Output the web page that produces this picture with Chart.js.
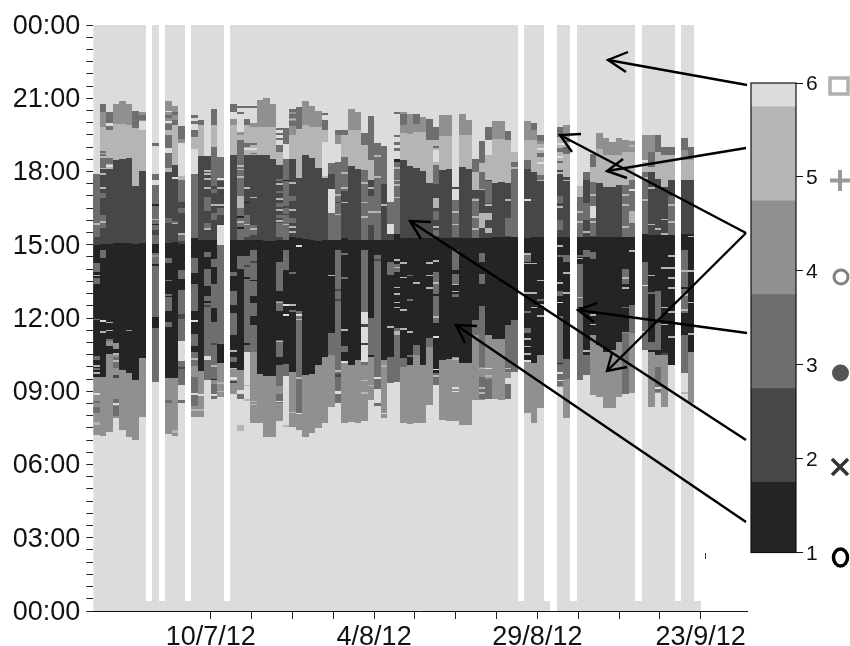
<!DOCTYPE html>
<html><head><meta charset="utf-8">
<script src="https://cdn.jsdelivr.net/npm/chart.js@4/dist/chart.umd.min.js"></script>
<style>html,body{margin:0;padding:0;background:#fff}#wrap{position:relative;width:850px;height:646px;overflow:hidden}
#main{position:absolute;left:0;top:0}#bar{position:absolute;left:730px;top:0}</style>
</head><body><div id="wrap"><canvas id="main" width="850" height="646"></canvas><canvas id="bar" width="120" height="646"></canvas></div>
<script>
const levelColors = {6:'#dcdcdc',5:'#b5b5b5',4:'#909090',3:'#6e6e6e',2:'#474747',1:'#242424'};
const xTickDays = [18,24.25,30.5,36.75,43,49.25,55.5,61.75,68,74.25,80.5,86.75,93];
const xTickLabels = {18:'10/7/12',43:'4/8/12',68:'29/8/12',93:'23/9/12'};
const scaleLevels = [1,2,3,4,5,6];
const bandStarts = [1,1.75,2.75,3.75,4.75,5.75];
const n = null;
// hour of day where each band of a day begins (one entry per day, null = no recording)
const duskTop   = [17.88,20.76,20.44,20.76,20.88,20.78,20.48,20.44,n,17.88,n,20.88,20.67,19.87,n,19.69,20.10,18.63,20.58,18.60,n,20.78,19.62,20.17,20.03,20.92,20.99,20.76,19.08,19.79,20.58,20.65,20.88,20.67,20.48,20.10,18.33,19.69,19.69,20.55,20.42,19.56,20.27,19.17,19.04,16.76,18.53,20.44,20.35,20.35,20.24,20.17,19.28,20.31,20.31,17.37,20.37,20.10,18.53,19.26,19.83,20.07,20.07,19.65,18.80,n,20.07,19.99,19.49,n,n,19.83,19.90,n,17.40,17.99,18.71,19.56,19.39,19.21,19.39,19.28,19.26,n,19.49,19.49,19.49,19.01,19.01,n,19.39,19.01,n];
const band5Top  = [17.88,19.83,19.72,19.94,19.94,19.90,19.79,19.69,n,17.88,n,19.96,19.89,19.17,n,19.42,19.90,18.63,19.90,18.60,n,19.90,19.49,19.90,19.83,19.83,19.83,19.83,18.80,19.14,19.49,19.76,19.90,19.83,19.83,19.72,18.33,19.14,19.49,19.72,19.72,19.08,18.46,18.53,17.50,16.76,18.53,19.56,19.53,19.60,19.60,19.28,19.28,19.45,19.45,17.37,19.49,19.49,17.99,18.33,18.67,19.35,19.35,19.28,18.80,n,19.28,19.28,19.14,n,n,19.42,19.42,n,17.40,17.99,18.19,18.94,18.67,18.67,18.67,18.80,18.80,n,18.46,18.80,18.80,18.67,18.67,n,18.46,18.46,n];
const band2Top  = [17.88,18.12,18.12,18.49,18.53,18.55,17.40,18.03,n,17.88,n,17.97,18.26,17.65,n,17.88,18.63,18.63,18.63,18.60,n,18.67,19.28,18.67,18.67,18.67,18.67,18.53,18.26,18.53,18.53,17.74,18.67,18.57,18.16,17.75,17.92,18.40,18.60,18.22,18.12,18.05,17.65,17.65,17.50,16.76,18.53,18.46,18.22,18.16,18.03,17.51,18.26,18.05,18.12,17.37,18.19,18.12,17.23,17.23,17.65,17.51,17.58,17.51,18.40,n,18.12,17.99,17.65,n,n,18.05,17.78,n,16.96,17.65,17.58,17.51,17.37,17.37,17.44,17.44,17.65,n,17.99,17.99,17.71,17.37,17.65,n,17.65,17.65,n];
const peakTop   = [14.98,15.02,15.02,15.08,15.08,15.08,15.02,15.08,n,15.05,n,15.08,15.12,15.05,n,15.26,15.19,15.19,15.19,15.09,n,15.19,15.19,15.19,15.19,15.19,15.16,15.16,15.19,15.19,15.32,15.26,15.22,15.19,15.16,15.19,15.19,15.19,15.26,15.19,15.19,15.19,15.19,15.19,15.19,15.19,15.46,15.26,15.26,15.26,15.26,15.26,15.32,15.26,15.26,15.26,15.26,15.26,15.26,15.26,15.26,15.32,15.32,15.32,15.32,n,15.26,15.32,15.32,n,n,15.32,15.32,n,15.32,15.32,15.32,15.32,15.32,15.32,15.32,15.32,15.32,n,15.46,15.39,15.39,15.39,15.39,n,15.46,15.46,n];
const morningTop= [9.59,9.59,10.52,10.48,9.89,9.76,9.48,10.38,n,9.39,n,9.56,9.56,9.25,n,10.62,9.84,9.46,9.46,10.14,n,9.92,9.89,10.62,10.62,9.70,9.62,9.62,10.07,9.62,9.80,9.46,9.66,9.70,10.07,10.41,10.48,8.50,10.14,10.07,10.27,10.07,10.41,9.10,10.27,10.41,10.96,10.00,10.07,10.48,10.07,10.82,9.73,10.27,10.34,10.41,10.14,10.14,11.30,10.00,11.30,11.16,11.16,11.71,11.91,n,10.27,10.14,10.48,n,n,10.75,10.34,n,9.46,10.48,11.30,10.89,10.62,10.69,11.03,11.43,12.53,n,10.69,10.62,10.48,10.55,10.07,n,10.55,10.62,n];
const nightEnd  = [7.20,7.16,7.34,7.89,7.41,7.14,7.00,7.96,n,9.39,n,7.24,7.16,9.25,n,7.96,7.96,9.46,8.70,8.77,n,8.88,9.05,10.62,7.68,7.68,7.11,7.11,7.79,9.62,7.55,7.41,7.11,7.27,7.48,7.71,8.34,8.50,7.68,7.75,7.71,7.79,8.64,9.10,7.89,9.32,9.39,7.71,7.66,7.71,7.68,8.43,9.25,7.82,7.79,7.79,7.61,7.61,8.64,8.64,8.70,8.70,8.64,8.70,9.80,n,8.09,7.71,8.30,n,n,9.18,7.89,n,9.46,9.66,8.84,8.77,8.30,8.30,8.77,8.91,8.91,n,10.69,8.36,8.91,8.36,10.07,n,9.73,8.50,n];
// days without recording still keep a short light stub after midnight
const stubDays = [8,10,14,20,65,69,73,83,89,92];
const stubHour = 0.41;
// [day, level, fromHour, toHour]; a missing toHour is a thin stripe
const stripeRows = [
[0,3,15.87,17.88],[0,3,15.3,15.8],[0,5,15.82],[0,3,13.9,14.25],[0,5,13.7],[0,3,13.4,13.65],[0,3,10.3,10.45],[0,5,10.0],[0,5,9.7],[0,3,9.85,9.95],[0,6,8.85],[0,3,8.1,8.35],[0,3,8.5,8.6],[0,5,7.6,7.75],[0,3,11.9],
[1,3,20.44,20.76],[1,3,18.15,18.85],[1,5,18.7],[1,5,18.55],[1,5,17.85],[1,5,17.3],[1,3,16.9,17.1],[1,3,15.7,16.2],[1,5,15.9],[1,3,14.45,14.78],[1,6,11.85],[1,5,11.4],
[2,3,19.95,20.44],[2,6,19.85,19.98],[2,3,19.72,19.85],[2,3,18.3,18.55],[2,6,18.2],[2,5,11.78],[2,5,11.45],[2,4,10.85,11.05],[2,3,11.05,11.15],
[3,4,10.72,10.98],[3,3,9.95,10.4],[3,2,9.55,9.66],[3,6,8.43],[3,3,8.0,8.4],[3,3,8.5,8.7],[3,5,10.5],[3,5,10.2],
[5,4,11.45],[6,3,19.79,20.48],[7,3,20.1,20.32],[7,6,19.72,20.07],
[9,3,19.04,19.17],[9,3,17.65,17.88],[9,6,17.45,17.65],[9,3,15.05,17.45],[9,1,15.8],[9,2,15.4,15.6],[9,5,16.0],[9,3,12.05,14.65],[9,3,9.39,11.6],[9,1,14.15],[9,4,14.5],[9,1,16.6],
[11,3,20.2,20.32],[11,6,20.42],[11,6,20.0],[11,3,19.72,19.95],[11,3,18.98,19.5],[11,6,18.75,18.98],[11,3,18.15,18.75],[11,3,14.25,14.45],[11,3,13.5],[11,3,12.3,12.85],[11,3,12.9,12.98],[11,3,11.65,11.85],[11,3,8.5,8.65],[11,5,16.0],[11,3,15.9,16.1],
[12,3,20.3,20.44],[12,3,19.9,20.1],[12,6,17.7],[12,5,15.85],[12,3,15.9,15.97],[12,5,7.3,7.42],
[13,3,19.35,19.87],[13,6,17.8,19.17],[13,3,16.76,17.65],[13,3,16.3,16.5],[13,5,15.4],[13,3,15.15,15.4],[13,3,13.6,13.95],[13,3,12.3,13.15],[13,3,11.05,12.3],[13,2,11.95,12.15],[13,6,10.25,11.05],[13,3,9.25,10.25],[13,2,9.9,10.0],[13,3,8.5,8.65],
[15,3,20.2,20.31],[15,3,19.95,20.05],[15,3,19.42,19.69],[15,6,17.88,18.94],[15,3,15.26,17.88],[15,1,14.65,15.0],[15,3,13.85,14.45],[15,3,12.3,13.4],[15,6,11.85],[15,3,10.85,11.35],[15,3,10.02,10.62],[15,5,10.3],[15,3,8.4,9.6],[15,6,8.85],[15,5,8.2],
[16,3,19.9,20.1],[16,6,8.8],[16,5,8.2],[16,6,7.4],
[17,5,18.0],[17,5,17.85],[17,5,17.65],[17,3,16.4,16.95],[17,3,15.7,15.9],[17,5,15.6],[17,5,17.3],[17,3,9.46,12.9],[17,1,12.6,12.7],[17,2,12.45,12.55],[17,6,10.3,10.45],[17,3,13.3,14.0],[17,1,14.3],[17,3,14.5,14.7],
[18,3,19.9,20.58],[18,3,18.63,18.99],[18,3,17.4,18.63],[18,3,17.1,17.3],[18,5,16.6],[18,3,16.0,16.3],[18,3,14.1,14.4],[18,3,12.4,13.4],[18,3,9.5,11.85],[18,2,10.9],[18,5,10.0],[18,3,8.7,9.3],[18,6,8.8],
[19,3,17.6,18.6],[19,6,17.66],[19,5,17.3],[19,5,16.6],[19,3,16.2,16.5],[19,6,14.98,15.8],[19,3,14.37,15.0],[19,3,10.95,14.37],[19,5,9.3],[19,5,8.95],
[21,3,20.45,20.78],[21,6,20.17,20.45],[21,3,13.7,13.9],[21,3,12.55,13.1],[21,3,11.3,12.2],[21,5,10.6],[21,3,10.2,10.4],[21,6,9.45,9.6],[21,2,9.35],[21,5,9.9],[21,1,14.6],
[22,3,20.62],[22,3,20.35],[22,3,15.2,19.28],[22,5,18.2],[22,5,18.05],[22,5,17.75],[22,5,16.5,17.0],[22,1,16.1],[22,1,15.65],[22,5,15.9],[22,3,14.0,14.55],[22,3,8.68,8.88],[22,5,7.38,7.6],
[23,3,20.62],[23,3,19.9,20.17],[23,3,19.0,19.15],[23,6,18.9],[23,5,17.3],[23,3,15.3,16.2],[23,5,15.8],[23,1,16.7],[23,3,10.62,14.55],[23,1,10.9],[23,1,13.6],[23,2,14.1],[23,5,8.6],[23,5,9.2],
[24,3,20.62],[24,6,20.0,20.3],[24,3,19.1],[24,6,18.9],[24,3,18.7],[24,3,15.4,15.8],[24,5,15.6],[24,5,16.9],[24,3,10.62,14.78],[24,1,13.5],[24,1,12.6,12.9],[24,1,11.7,12.1],[24,2,14.25],[24,5,8.55],[24,5,8.42],
[28,3,19.7],[28,3,19.5],[28,3,19.3],[28,3,18.8,19.08],[28,3,17.6,17.7],[28,5,17.45],[28,3,17.1,17.2],[28,5,16.85],[28,3,16.55,16.7],[28,5,16.4],[28,3,16.1,16.2],[28,5,15.95],[28,3,15.3,15.9],[28,3,13.1,14.3],[28,3,12.3,12.7],[28,5,12.6],[28,3,10.4,11.1],[28,5,11.0],[28,3,9.2,10.07],[28,5,8.7],[28,3,8.5,8.9],[28,6,8.55],
[29,3,19.14,19.79],[29,6,18.53,19.14],[29,3,15.19,18.53],[29,2,16.5],[29,2,16.2],[29,5,15.8],[29,3,13.95,14.78],[29,6,12.5],[29,6,12.1],[29,3,9.62,10.1],[29,5,7.55],[29,1,17.6],
[30,3,20.45,20.58],[30,3,20.2,20.35],[30,5,20.1],[30,3,19.85,20.05],[30,5,17.5],[30,3,16.8,17.0],[30,5,16.4],[30,3,15.9,16.1],[30,5,15.7],[30,5,15.5],[30,3,13.8,13.9],[30,5,12.5],[30,3,12.25],[30,5,8.1],
[31,3,19.76,20.65],[31,3,11.6,12.3],[31,6,12.1],[31,3,8.1,11.6],[31,5,9.5],[31,6,8.05],[31,5,11.9],[31,6,14.9],
[35,3,20.3,20.4],[35,3,19.7,20.1],[35,6,17.8,19.2],
[36,3,17.9,18.33],[36,6,16.32,17.3],[36,3,15.19,16.32],[36,3,10.48,11.4],[36,5,13.7],[36,1,15.0],
[37,3,19.5,19.69],[37,6,18.4,19.14],[37,3,15.19,18.4],[37,2,16.7],[37,5,17.0],[37,5,16.2],[37,3,8.5,14.78],[37,5,9.8],[37,6,8.9,9.0],[37,2,9.6,9.7],[37,2,12.7],[37,2,13.1],
[38,3,19.49,19.69],[38,3,17.2,18.6],[38,5,17.9],[38,5,17.3],[38,5,16.7],[38,3,10.6,10.85],[38,5,11.47],[38,3,13.6],[38,3,14.6],[38,6,10.15],
[41,3,19.08,19.56],[41,3,15.19,18.05],[41,5,17.5],[41,5,16.7],[41,5,16.1],[41,3,10.07,14.78],[41,6,10.2,12.25],[41,2,11.65,11.75],[41,2,10.9],[41,5,9.4],[41,5,8.9],
[42,3,18.46,20.27],[42,5,17.3],[42,3,15.8,17.0],[42,5,16.3],[42,3,10.5,12.0],[42,5,9.2],
[43,3,15.19,19.17],[43,5,18.6],[43,5,17.75],[43,5,16.3],[43,3,9.1,14.6],[43,2,14.35],[43,6,9.5],[43,3,8.4,8.5],
[44,3,17.5,19.04],[44,5,16.6],[44,2,17.0],[44,5,10.0],[44,6,8.05],
[45,3,15.87,16.76],[45,6,15.45,15.85],[45,3,13.75,14.3],[45,3,9.32,10.41],[45,5,11.6],
[46,3,20.35],[46,3,19.4,19.5],[46,3,19.1,19.2],[46,3,18.85,18.95],[46,3,15.46,18.53],[46,1,18.4,18.53],[46,5,17.4],[46,5,17.6],[46,5,18.1],[46,5,16.9],[46,3,9.39,11.6],[46,5,12.95],[46,5,12.6],[46,5,11.4],[46,3,13.9,14.2],[46,5,14.35],[46,5,14.03],[46,5,13.21],[46,5,12.39],[46,1,11.71],[46,5,11.3],
[47,3,19.9,20.35],[47,5,12.3],[47,5,11.5],[47,5,10.2],[47,3,10.0,10.35],[47,5,14.23],[47,5,13.62],
[48,3,13.7],[48,3,12.7],[48,5,11.4],[48,3,10.4],
[49,3,19.95,20.35],[49,3,10.48,10.9],[49,5,13.4],
[51,3,19.28,20.17],[51,5,13.7],[51,5,13.2],[51,3,10.82,11.2],[51,5,14.23],
[52,3,19.28,19.83],[52,5,19.15],[52,3,18.95,19.05],[52,6,18.4,18.9],[52,3,17.5,18.26],[52,5,16.5,16.9],[52,3,16.0,16.4],[52,5,15.7],[52,3,15.35,15.6],[52,3,13.0,13.9],[52,5,13.4],[52,3,11.8,12.9],[52,5,12.0],[52,6,11.2],[52,3,9.25,9.73],[52,6,9.85],[52,5,9.6],[52,5,14.3],
[55,6,16.85,17.3],[55,3,15.3,16.85],[55,5,16.3],[55,5,15.8],[55,3,13.95,14.78],[55,5,13.35],[55,5,13.05],[55,3,13.4,13.8],[55,3,12.85,13.0],[55,5,10.3],[55,6,9.1],[55,6,8.95],
[58,3,17.99,18.53],[58,3,15.26,16.9],[58,5,16.8],[58,5,16.1],[58,3,11.3,11.9],[58,5,15.6],
[59,3,18.33,19.26],[59,3,10.0,12.5],[59,5,15.7,16.3],[59,3,13.4,13.8],[59,3,17.3,18.0],[59,3,14.3,14.65],[59,5,9.9],[59,3,8.7,9.6],[59,5,9.1],[59,5,8.9],
[60,3,19.3,19.83],[60,6,18.67,19.28],[60,5,16.0,16.3],[60,5,15.5,15.7],[60,5,16.6],[60,3,16.7,17.6],[60,6,9.9],[60,5,9.6],[60,3,8.7,9.5],
[63,3,19.28,19.65],[63,3,9.8,11.7],[63,5,16.8],[63,3,15.35,16.1],[63,5,9.9],[63,6,9.3,9.55],[63,6,9.0],[63,3,8.7,9.3],
[64,3,15.32,18.4],[64,5,18.1],[64,3,9.8,11.9],[64,1,12.0],
[66,3,18.12,18.46],[66,6,16.8],[66,3,14.3,14.65],[66,5,10.8],[66,5,10.5],[66,6,10.2],[66,3,12.2],[66,5,13.0],[66,5,14.6],[66,5,14.2],[66,5,11.1],[66,3,11.4,11.6],
[67,3,19.7,20.0],[67,5,14.2],[67,5,13.0],[67,5,12.4],
[68,3,19.25,19.49],[68,6,18.9],[68,3,18.6,18.75],[68,6,18.3],[68,3,17.65,17.85],[68,5,17.6],[68,5,13.5],[68,3,12.7],[68,5,12.5],[68,5,12.05],
[71,3,19.42,19.83],[71,6,19.1],[71,3,18.8,18.95],[71,6,18.55],[71,3,18.35,18.45],[71,5,17.9],[71,3,16.7,17.0],[71,5,16.5],[71,3,15.6,16.0],[71,5,14.9],[71,3,9.2,12.1],[71,6,12.6],[71,5,12.9],[71,3,12.9,13.1],[71,6,9.4],[71,1,10.1],[71,6,9.7],[71,5,13.4],[71,3,14.5],
[72,3,18.7,19.0],[72,6,19.1],[72,3,19.2],[72,5,17.6],[72,3,14.3,14.6],[72,1,12.4,12.9],[72,5,13.0],[72,3,9.5,10.34],[72,5,13.8],
[74,3,15.32,16.96],[74,5,16.3],[74,5,15.9],[74,3,9.46,14.2],[74,1,12.4],[74,5,12.8],[74,3,14.5],[74,5,14.4],
[75,3,17.65,17.99],[75,3,16.0,16.7],[75,5,15.5],[75,3,9.66,10.48],[75,5,10.6],[75,3,14.5,14.8],
[76,3,18.19,18.71],[76,3,15.35,17.58],[76,6,16.1,16.6],[76,5,15.9],[76,5,17.0],[76,3,14.4,14.7],[76,5,12.1],[76,5,11.7],
[81,3,15.32,17.44],[81,5,17.0],[81,5,16.6],[81,5,15.7],[81,3,8.9,11.4],[81,3,13.4,14.0],[81,5,13.6],[81,5,13.2],[81,3,12.4],
[82,5,19.0],[82,5,18.2],[82,3,15.32,17.65],[82,5,15.9,16.4],[82,6,17.2],[82,5,14.7],[82,3,11.4,12.53],[82,5,12.0],
[84,3,15.46,17.99],[84,6,18.4],[84,5,17.7],[84,5,16.8],[84,3,10.69,14.3],[84,6,13.3],[84,5,11.9],[84,5,11.4],
[85,3,18.2,18.8],[85,5,17.3],[85,5,15.8],[85,5,13.7],[85,3,13.0],[85,3,10.7,11.0],
[86,3,18.8,19.49],[86,3,10.69,13.1],[86,3,8.95,9.95],[86,6,9.1],[86,3,9.8,10.0],[86,5,15.6],[86,2,11.8],
[87,3,18.67,19.0],[87,5,16.0],[87,5,14.0],[87,5,12.4],[87,5,11.7],[87,2,10.5],[87,5,15.4],
[88,3,18.67,19.01],[88,3,15.39,17.0],[88,5,16.6],[88,5,15.9],[88,5,14.5],[88,5,14.0],[88,5,13.6],[88,5,13.2],[88,5,12.2],[88,5,11.2],
[90,3,18.9,19.39],[90,3,9.73,14.78],[90,1,11.3,12.2],[90,5,13.9],[90,5,12.9],[90,5,12.3],[90,1,13.2],[90,5,8.9],
[91,3,18.6,19.01],[91,5,15.3],[91,5,13.9],[91,5,12.6],[91,5,11.3]
];
const thinStripe = 0.07;

const hourTicks = []; for (let h=0;h<=48;h++) hourTicks.push(h/2);
const dayCount = duskTop.length;

function floatSeries(level, lower, upper, order){
  const pts=[];
  for(let d=0;d<dayCount;d++){
    if(lower[d]===null) continue;
    pts.push({x:d+0.5,y:[lower[d],upper[d]]});
  }
  return {data:pts,backgroundColor:levelColors[level],order};
}
const full = duskTop.map(v=>v===null?null:24);
const zero = duskTop.map(v=>v===null?null:0);
const stub = {data:stubDays.map(d=>({x:d+0.5,y:[0,stubHour]})),backgroundColor:levelColors[6],order:6};
const stripes = {
  data:stripeRows.map(r=>({x:r[0]+0.5,y:[r[2],r[3]??r[2]+thinStripe]})),
  backgroundColor:stripeRows.map(r=>levelColors[r[1]]),order:1
};
const datasets=[
  floatSeries(6,zero,full,7), stub,
  floatSeries(4,nightEnd,duskTop,5),
  floatSeries(5,morningTop,band5Top,4),
  floatSeries(2,morningTop,band2Top,3),
  floatSeries(1,morningTop,peakTop,2),
  stripes
];
const FONT='"Liberation Sans",Arial,sans-serif';

const arrows=[
 [[747,85],[608,60],[628,52],[626,72]],
 [[746,148],[607,171],[623,159],[627,178]],
 [[746,233],[560,135],[581,134],[572,152]],
 [[746,233],[607,371],[612,353],[627,367]],
 [[747,333],[578,310],[597,303],[594,322]],
 [[746,440],[410,221],[431,222],[421,239]],
 [[746,522],[456,325],[477,326],[465,343]]
];
// keep cells on whole pixels so neighbouring days meet without seams
const snapCells={id:'snapCells',beforeDatasetsDraw(c){
  c.getSortedVisibleDatasetMetas().forEach(m=>m.data.forEach(el=>{
    const l=Math.round(el.x-el.width/2),r=Math.round(el.x+el.width/2);
    el.x=(l+r)/2;el.width=r-l;
    const top=Math.round(Math.min(el.y,el.base));
    let bot=Math.round(Math.max(el.y,el.base));
    if(bot<=top) bot=top+1;
    el.y=top;el.base=bot;
  }));
}};
const overlay={id:'overlay',afterDraw(c){
  const g=c.ctx;g.save();
  g.strokeStyle='#000';g.lineWidth=2.4;g.lineCap='butt';
  arrows.forEach(a=>{
    g.beginPath();g.moveTo(a[0][0],a[0][1]);g.lineTo(a[1][0],a[1][1]);g.stroke();
    g.beginPath();g.moveTo(a[2][0],a[2][1]);g.lineTo(a[1][0],a[1][1]);g.lineTo(a[3][0],a[3][1]);g.stroke();
  });
  g.lineWidth=1;g.strokeStyle='#333';g.beginPath();g.moveTo(705.5,553);g.lineTo(705.5,559);g.stroke();
  g.strokeStyle='#b0b0b0';g.lineWidth=3.5;g.strokeRect(830,78,18,16);
  g.strokeStyle='#999';g.lineWidth=4;g.beginPath();g.moveTo(830,180.5);g.lineTo(850,180.5);g.moveTo(840,170);g.lineTo(840,191);g.stroke();
  g.strokeStyle='#808080';g.lineWidth=3;g.beginPath();g.arc(841,277,7,0,Math.PI*2);g.stroke();
  g.fillStyle='#555';g.beginPath();g.arc(840.5,373,8.5,0,Math.PI*2);g.fill();
  g.strokeStyle='#333';g.lineWidth=3.5;g.beginPath();g.moveTo(832,459);g.lineTo(848,475);g.moveTo(848,459);g.lineTo(832,475);g.stroke();
  g.strokeStyle='#000';g.lineWidth=3.5;g.beginPath();g.ellipse(840.5,557.5,7,8.5,0,0,Math.PI*2);g.stroke();
  g.restore();
}};

new Chart(document.getElementById('main'),{
  type:'bar',
  data:{datasets},
  plugins:[snapCells,overlay],
  options:{
    responsive:false,animation:false,
    layout:{padding:{left:0,top:25,right:103,bottom:0}},
    plugins:{legend:{display:false},tooltip:{enabled:false}},
    datasets:{bar:{grouped:false,barPercentage:1,categoryPercentage:1,borderWidth:0,inflateAmount:0}},
    scales:{
      x:{type:'linear',offset:false,min:0,max:100.1,
        afterBuildTicks:s=>{s.ticks=xTickDays.map(v=>({value:v}));},
        afterFit:s=>{s.height=35;},
        grid:{offset:false,drawOnChartArea:false,drawTicks:true,tickLength:8,tickColor:'#222',tickWidth:1},
        border:{display:true,color:'#111',width:1},
        ticks:{autoSkip:false,maxRotation:0,padding:2,color:'#111',font:{family:FONT,size:27},callback:v=>xTickLabels[v]||''}
      },
      y:{type:'linear',min:0,max:24,
        afterBuildTicks:s=>{s.ticks=hourTicks.map(v=>({value:v}));},
        afterFit:s=>{s.width=93.3;},
        grid:{drawOnChartArea:false,drawTicks:true,tickLength:7,tickColor:'#222',tickWidth:1},
        border:{display:false},
        ticks:{autoSkip:false,padding:6,color:'#111',labelOffset:1.5,font:{family:FONT,size:27},
          callback:v=>v%3?'':String(v%24).padStart(2,'0')+':00'}
      }
    }
  }
});

const frame={id:'frame',afterDatasetsDraw(c){
  const a=c.chartArea,g=c.ctx;g.save();g.strokeStyle='#111';g.lineWidth=1.2;g.strokeRect(a.left,a.top,a.right-a.left,a.bottom-a.top);g.restore();
}};
new Chart(document.getElementById('bar'),{
  type:'bar',
  data:{labels:['level'],datasets:bandStarts.map((b,i)=>({data:[[b,6]],backgroundColor:levelColors[i+1],order:6-i}))},
  plugins:[frame],
  options:{
    responsive:false,animation:false,
    layout:{padding:{left:21,top:83,right:0,bottom:93.5}},
    plugins:{legend:{display:false},tooltip:{enabled:false}},
    datasets:{bar:{grouped:false,barPercentage:1,categoryPercentage:1,borderWidth:0,inflateAmount:0}},
    scales:{
      x:{display:false},
      y:{position:'right',min:1,max:6,
        afterBuildTicks:s=>{s.ticks=scaleLevels.map(v=>({value:v}));},
        afterFit:s=>{s.width=54;},
        grid:{drawOnChartArea:false,drawTicks:true,tickLength:7,tickColor:'#111',tickWidth:1},
        border:{display:false},
        ticks:{padding:3,color:'#111',labelOffset:1.5,font:{family:FONT,size:21},callback:v=>String(v)}
      }
    }
  }
});
</script></body></html>
